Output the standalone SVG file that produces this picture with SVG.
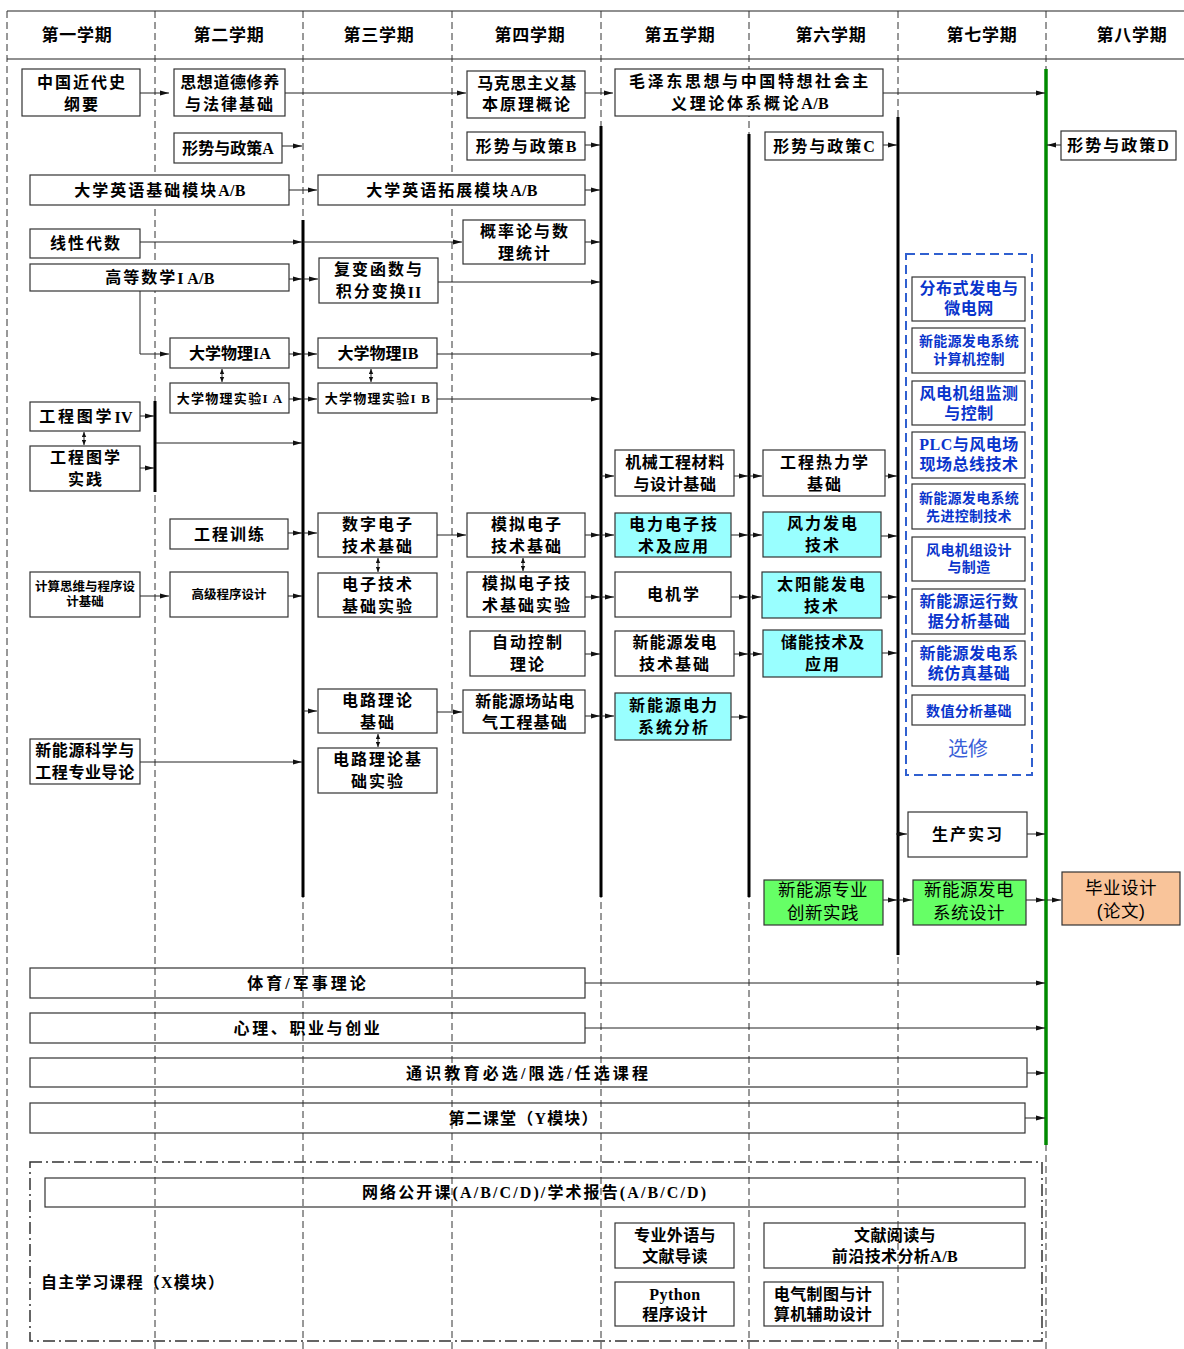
<svg xmlns="http://www.w3.org/2000/svg" width="1184" height="1349" viewBox="0 0 1184 1349">
<style>
.b{fill:#fff;stroke:#333;stroke-width:1.2}
.bn{fill:none;stroke:#333;stroke-width:1.2}
.cy{fill:#99ffff;stroke:#333;stroke-width:1.2}
.gr{fill:#66ff66;stroke:#333;stroke-width:1.2}
.or{fill:#f9c49a;stroke:#333;stroke-width:1.2}
text{font-family:"Liberation Serif","Noto Sans CJK SC",serif;font-weight:bold;text-anchor:middle;dominant-baseline:central;fill:#000}
.t{font-size:16px;letter-spacing:2px}
.t6{font-size:16px;letter-spacing:0.6px}
.t0{font-size:16px;letter-spacing:0}
.s{font-size:12.5px;letter-spacing:0}
.s13{font-size:13px;letter-spacing:1.3px}
.h{font-size:17px;letter-spacing:0.8px}
.bl{font-size:16px;letter-spacing:0.5px;fill:#0a35cc}
.bls{font-size:14px;letter-spacing:0.3px;fill:#0a35cc}
.xx{font-family:"Noto Sans CJK SC","Liberation Sans",sans-serif;font-size:20px;font-weight:normal;fill:#3a5fd8}
.sn{font-family:"Liberation Sans","Noto Sans CJK SC",sans-serif;font-size:17.5px;font-weight:normal;letter-spacing:0.5px}
.xb{font-size:16px;letter-spacing:0.4px}
.lt{letter-spacing:0.3px}
.dash{stroke:#333;stroke-width:1;stroke-dasharray:7,4;fill:none}
.thick{stroke:#000;stroke-width:3;fill:none}
.c{stroke:#222;stroke-width:1;fill:none;marker-end:url(#ar)}
.d{stroke:#222;stroke-width:1;fill:none;marker-end:url(#ar2);marker-start:url(#ar2)}
</style>
<defs>
<marker id="ar" viewBox="0 0 9 6" refX="9" refY="3" markerWidth="9" markerHeight="6" markerUnits="userSpaceOnUse" orient="auto"><path d="M0,0.6 L9,3 L0,5.4 z" fill="#111"/></marker>
<marker id="ar2" viewBox="0 0 5 5" refX="5" refY="2.5" markerWidth="5" markerHeight="5" markerUnits="userSpaceOnUse" orient="auto-start-reverse"><path d="M0,0.3 L5,2.5 L0,4.7 z" fill="#111"/></marker>
</defs>
<rect width="1184" height="1349" fill="#fff"/>

<g id="grid">
<line x1="7" y1="11" x2="1184" y2="11" stroke="#222" stroke-width="1.2"/>
<line x1="7" y1="59" x2="1184" y2="59" stroke="#222" stroke-width="1.2"/>
<line class="dash" x1="7" y1="11" x2="7" y2="1349"/>
<line class="dash" x1="155" y1="11" x2="155" y2="1349"/>
<line class="dash" x1="303" y1="11" x2="303" y2="1349"/>
<line class="dash" x1="452" y1="11" x2="452" y2="1349"/>
<line class="dash" x1="601" y1="11" x2="601" y2="1349"/>
<line class="dash" x1="749" y1="11" x2="749" y2="1349"/>
<line class="dash" x1="898" y1="11" x2="898" y2="1349"/>
<line class="dash" x1="1046" y1="11" x2="1046" y2="1349"/>
<text class="h" x="77" y="35">第一学期</text>
<text class="h" x="229" y="35">第二学期</text>
<text class="h" x="379" y="35">第三学期</text>
<text class="h" x="530" y="35">第四学期</text>
<text class="h" x="680" y="35">第五学期</text>
<text class="h" x="831" y="35">第六学期</text>
<text class="h" x="982" y="35">第七学期</text>
<text class="h" x="1132" y="35">第八学期</text>
</g>

<g id="bars">
<line class="thick" x1="155" y1="401" x2="155" y2="492"/>
<line class="thick" x1="303" y1="220" x2="303" y2="897"/>
<line class="thick" x1="601" y1="126" x2="601" y2="897"/>
<line class="thick" x1="749" y1="134" x2="749" y2="897"/>
<line class="thick" x1="898" y1="117" x2="898" y2="955"/>
<line x1="1046" y1="69" x2="1046" y2="1145" stroke="#008a00" stroke-width="3.5"/>
</g>

<g id="connectors">
<path class="c" d="M140,93 H169"/>
<path class="c" d="M285,93 H466"/>
<path class="c" d="M585,93 H613"/>
<path class="c" d="M883,93 H1045"/>
<path class="c" d="M282,146 H302"/>
<path class="c" d="M585,145 H600"/>
<path class="c" d="M883,145 H897"/>
<path class="c" d="M1061,145 H1047"/>
<path class="c" d="M289,190 H317"/>
<path class="c" d="M585,190 H600"/>
<path class="c" d="M140,242 H302"/>
<path class="c" d="M303,242 H462"/>
<path class="c" d="M289,279 H302"/>
<path class="c" d="M303,279 H318"/>
<path class="c" d="M140,291 V354 H169"/>
<path class="c" d="M438,282 H600"/>
<path class="c" d="M585,242 H600"/>
<path class="c" d="M289,354 H302"/>
<path class="c" d="M303,354 H317"/>
<path class="c" d="M437,354 H600"/>
<path class="c" d="M289,399 H302"/>
<path class="c" d="M303,399 H317"/>
<path class="c" d="M437,399 H600"/>
<path class="d" d="M222,369 V382"/>
<path class="d" d="M371,369 V382"/>
<path class="c" d="M140,416 H154"/>
<path class="c" d="M140,468 H154"/>
<path class="d" d="M84,432 V445"/>
<path class="c" d="M156,443 H302"/>
<path class="c" d="M601,476 H614"/>
<path class="c" d="M734,476 H748"/>
<path class="c" d="M749,476 H762"/>
<path class="c" d="M885,476 H897"/>
<path class="c" d="M288,533 H302"/>
<path class="c" d="M303,533 H317"/>
<path class="c" d="M437,535 H466"/>
<path class="d" d="M378,558 V572"/>
<path class="c" d="M585,535 H600"/>
<path class="c" d="M601,535 H614"/>
<path class="c" d="M731,535 H748"/>
<path class="c" d="M749,535 H762"/>
<path class="c" d="M881,536 H897"/>
<path class="d" d="M523,558 V571"/>
<path class="c" d="M140,596 H169"/>
<path class="c" d="M288,596 H302"/>
<path class="c" d="M585,597 H600"/>
<path class="c" d="M601,597 H614"/>
<path class="c" d="M731,597 H748"/>
<path class="c" d="M749,597 H761"/>
<path class="c" d="M881,597 H897"/>
<path class="c" d="M585,654 H600"/>
<path class="c" d="M734,654 H748"/>
<path class="c" d="M749,654 H762"/>
<path class="c" d="M882,653 H897"/>
<path class="c" d="M303,711 H317"/>
<path class="c" d="M437,712 H462"/>
<path class="c" d="M585,716 H600"/>
<path class="c" d="M601,716 H614"/>
<path class="c" d="M731,717 H748"/>
<path class="d" d="M378,734 V747"/>
<path class="c" d="M140,762 H302"/>
<path class="c" d="M896,834 H907"/>
<path class="c" d="M1027,834 H1045"/>
<path class="c" d="M883,900 H897"/>
<path class="c" d="M898,900 H912"/>
<path class="c" d="M1026,900 H1045"/>
<path class="c" d="M1047,900 H1061"/>
<path class="c" d="M585,983 H1045"/>
<path class="c" d="M585,1028 H1045"/>
<path class="c" d="M1027,1073 H1045"/>
<path class="c" d="M1025,1118 H1045"/>
</g>

<g id="n-zgjd"><rect class="b" x="22" y="69" width="118" height="47"/><text class="t" x="82" y="82">中国近代史</text><text class="t" x="82" y="104">纲要</text></g>
<g id="n-sxdd"><rect class="b" x="174" y="69" width="111" height="47"/><text class="t6" x="230" y="82">思想道德修养</text><text class="t" x="230" y="104">与法律基础</text></g>
<g id="n-mks"><rect class="b" x="467" y="71" width="118" height="47"/><text class="t6" x="527" y="83">马克思主义基</text><text class="t" x="527" y="104">本原理概论</text></g>
<g id="n-mzd"><rect class="b" x="615" y="69" width="268" height="47"/><text class="t" style="letter-spacing:2.6px" x="750" y="81">毛泽东思想与中国特想社会主</text><text class="t" style="letter-spacing:2.6px" x="750" y="103">义理论体系概论<tspan class="lt">A/B</tspan></text></g>
<g id="n-xsa"><rect class="b" x="174" y="133" width="108" height="30"/><text class="t0" x="228" y="148">形势与政策A</text></g>
<g id="n-xsb"><rect class="b" x="467" y="132" width="118" height="28"/><text class="t" x="527" y="146">形势与政策B</text></g>
<g id="n-xsc"><rect class="b" x="765" y="132" width="118" height="28"/><text class="t" x="825" y="146">形势与政策C</text></g>
<g id="n-xsd"><rect class="b" x="1061" y="131" width="115" height="29"/><text class="t" x="1119" y="145.5">形势与政策D</text></g>
<g id="n-yyjc"><rect class="b" x="30" y="175" width="259" height="30"/><text class="t" x="160" y="190">大学英语基础模块<tspan class="lt">A/B</tspan></text></g>
<g id="n-yytz"><rect class="b" x="318" y="175" width="267" height="30"/><text class="t" x="452" y="190">大学英语拓展模块<tspan class="lt">A/B</tspan></text></g>
<g id="n-xxds"><rect class="b" x="30" y="229" width="110" height="29"/><text class="t" x="86" y="243.5">线性代数</text></g>
<g id="n-gdsx"><rect class="b" x="30" y="264" width="259" height="27"/><text class="t" x="160" y="277.5">高等数学<tspan class="lt">I A/B</tspan></text></g>
<g id="n-fb"><rect class="b" x="319" y="258" width="119" height="45"/><text class="t" x="379" y="269.5">复变函数与</text><text class="t" x="379" y="291.5">积分变换<tspan style="letter-spacing:1px">II</tspan></text></g>
<g id="n-gl"><rect class="b" x="463" y="220" width="122" height="44"/><text class="t" x="525" y="231">概率论与数</text><text class="t" x="525" y="253">理统计</text></g>
<g id="n-wlia"><rect class="b" x="170" y="338" width="119" height="30"/><text class="t0" x="230" y="353">大学物理IA</text></g>
<g id="n-wlib"><rect class="b" x="318" y="338" width="119" height="30"/><text class="t0" x="378" y="353">大学物理IB</text></g>
<g id="n-syia"><rect class="b" x="170" y="383" width="119" height="30"/><text class="s13" x="230" y="398">大学物理实验I A</text></g>
<g id="n-syib"><rect class="b" x="318" y="383" width="119" height="30"/><text class="s13" x="378" y="398">大学物理实验I B</text></g>
<g id="n-gctx4"><rect class="b" x="30" y="402" width="110" height="29"/><text class="t" style="letter-spacing:2.8px" x="86" y="416.5">工程图学<tspan class="lt">IV</tspan></text></g>
<g id="n-gctxsj"><rect class="b" x="30" y="446" width="110" height="45"/><text class="t" x="86" y="457">工程图学</text><text class="t" x="86" y="479">实践</text></g>
<g id="n-jxgc"><rect class="b" x="615" y="450" width="119" height="46"/><text class="t6" x="675" y="462">机械工程材料</text><text class="t6" x="675" y="484">与设计基础</text></g>
<g id="n-gcrl"><rect class="b" x="763" y="450" width="122" height="46"/><text class="t" x="825" y="462">工程热力学</text><text class="t" x="825" y="484">基础</text></g>
<g id="n-gcxl"><rect class="b" x="170" y="519" width="118" height="30"/><text class="t" x="230" y="534">工程训练</text></g>
<g id="n-szdz"><rect class="b" x="318" y="513" width="119" height="44"/><text class="t" x="378" y="524">数字电子</text><text class="t" x="378" y="546">技术基础</text></g>
<g id="n-mndz"><rect class="b" x="467" y="513" width="118" height="44"/><text class="t" x="527" y="524">模拟电子</text><text class="t" x="527" y="546">技术基础</text></g>
<g id="n-dldz"><rect class="cy" x="615" y="513" width="116" height="44"/><text class="t" x="674" y="524">电力电子技</text><text class="t" x="674" y="546">术及应用</text></g>
<g id="n-flfd"><rect class="cy" x="763" y="512" width="118" height="45"/><text class="t" x="823" y="523.5">风力发电</text><text class="t" x="823" y="545.5">技术</text></g>
<g id="n-jssw"><rect class="b" x="30" y="572" width="110" height="45"/><text class="s" x="85" y="587">计算思维与程序设</text><text class="s" x="85" y="602">计基础</text></g>
<g id="n-gjcx"><rect class="b" x="170" y="572" width="118" height="45"/><text class="s" x="229" y="594.5">高级程序设计</text></g>
<g id="n-dzsy"><rect class="b" x="318" y="573" width="119" height="44"/><text class="t" x="378" y="584">电子技术</text><text class="t" x="378" y="606">基础实验</text></g>
<g id="n-mnsy"><rect class="b" x="467" y="572" width="118" height="45"/><text class="t" x="527" y="583.5">模拟电子技</text><text class="t" x="527" y="605.5">术基础实验</text></g>
<g id="n-djx"><rect class="b" x="615" y="572" width="116" height="45"/><text class="t" x="674" y="594.5">电机学</text></g>
<g id="n-tyn"><rect class="cy" x="762" y="572" width="119" height="46"/><text class="t" x="822" y="584">太阳能发电</text><text class="t" x="822" y="606">技术</text></g>
<g id="n-zdkz"><rect class="b" x="470" y="631" width="115" height="45"/><text class="t" x="528" y="642.5">自动控制</text><text class="t" x="528" y="664.5">理论</text></g>
<g id="n-xnyfd"><rect class="b" x="615" y="631" width="119" height="45"/><text class="t" style="letter-spacing:1px" x="675" y="642.5">新能源发电</text><text class="t" x="675" y="664.5">技术基础</text></g>
<g id="n-cn"><rect class="cy" x="763" y="630" width="119" height="47"/><text class="t" style="letter-spacing:0.8px" x="823" y="642">储能技术及</text><text class="t" x="823" y="664">应用</text></g>
<g id="n-dlll"><rect class="b" x="318" y="689" width="119" height="44"/><text class="t" x="378" y="700">电路理论</text><text class="t" x="378" y="722">基础</text></g>
<g id="n-czdq"><rect class="b" x="463" y="690" width="122" height="43"/><text class="t6" x="525" y="701">新能源场站电</text><text class="t" style="letter-spacing:1.2px" x="525" y="722">气工程基础</text></g>
<g id="n-dlxt"><rect class="cy" x="615" y="693" width="116" height="47"/><text class="t" x="674" y="705">新能源电力</text><text class="t" x="674" y="727">系统分析</text></g>
<g id="n-dlsy"><rect class="b" x="318" y="748" width="119" height="45"/><text class="t" x="378" y="759.5">电路理论基</text><text class="t" x="378" y="781.5">础实验</text></g>
<g id="n-zydl"><rect class="b" x="30" y="739" width="110" height="45"/><text class="t6" x="85" y="750.5">新能源科学与</text><text class="t6" x="85" y="772.5">工程专业导论</text></g>

<g id="electives">
<rect x="906" y="254" width="126" height="521" fill="none" stroke="#3060d0" stroke-width="2" stroke-dasharray="9,5"/>
<g id="e1"><rect class="b" x="912" y="277" width="113" height="44"/><text class="bl" x="969" y="288.5">分布式发电与</text><text class="bl" x="969" y="308.5">微电网</text></g>
<g id="e2"><rect class="b" x="912" y="328" width="113" height="45"/><text class="bls" x="969" y="341">新能源发电系统</text><text class="bls" x="969" y="359">计算机控制</text></g>
<g id="e3"><rect class="b" x="912" y="381" width="113" height="44"/><text class="bl" x="969" y="393">风电机组监测</text><text class="bl" x="969" y="413">与控制</text></g>
<g id="e4"><rect class="b" x="912" y="432" width="113" height="46"/><text class="bl" x="969" y="444.5">PLC与风电场</text><text class="bl" x="969" y="464.5">现场总线技术</text></g>
<g id="e5"><rect class="b" x="912" y="484" width="113" height="45"/><text class="bls" x="969" y="498">新能源发电系统</text><text class="bls" x="969" y="516">先进控制技术</text></g>
<g id="e6"><rect class="b" x="912" y="537" width="113" height="44"/><text class="bls" x="969" y="550">风电机组设计</text><text class="bls" x="969" y="567">与制造</text></g>
<g id="e7"><rect class="b" x="912" y="589" width="113" height="45"/><text class="bl" x="969" y="601">新能源运行数</text><text class="bl" x="969" y="621">据分析基础</text></g>
<g id="e8"><rect class="b" x="912" y="641" width="113" height="45"/><text class="bl" x="969" y="653">新能源发电系</text><text class="bl" x="969" y="673">统仿真基础</text></g>
<g id="e9"><rect class="b" x="912" y="695" width="113" height="30"/><text class="bls" x="969" y="711">数值分析基础</text></g>
<text class="xx" x="968" y="747">选修</text>
</g>

<g id="n-scsx"><rect class="b" x="908" y="812" width="119" height="45"/><text class="t" x="968" y="834.5">生产实习</text></g>
<g id="n-cxsj"><rect class="gr" x="764" y="880" width="119" height="45"/><text class="sn" x="823" y="890">新能源专业</text><text class="sn" x="823" y="913">创新实践</text></g>
<g id="n-xtsj"><rect class="gr" x="913" y="880" width="113" height="45"/><text class="sn" x="969" y="890">新能源发电</text><text class="sn" x="969" y="913">系统设计</text></g>
<g id="n-bysj"><rect class="or" x="1062" y="872" width="118" height="53"/><text class="sn" x="1121" y="888">毕业设计</text><text class="sn" x="1121" y="911">(论文)</text></g>

<g id="n-ty"><rect class="bn" x="30" y="968" width="555" height="30"/><text class="t" style="letter-spacing:3px" x="308" y="983">体育/军事理论</text></g>
<g id="n-xl"><rect class="bn" x="30" y="1013" width="555" height="30"/><text class="t" style="letter-spacing:2.6px" x="308" y="1028">心理、职业与创业</text></g>
<g id="n-tsjy"><rect class="bn" x="30" y="1058" width="997" height="29"/><text class="t" x="528" y="1073" textLength="244" lengthAdjust="spacing">通识教育必选/限选/任选课程</text></g>
<g id="n-dekt"><rect class="bn" x="30" y="1103" width="995" height="30"/><text class="t" x="524" y="1118" textLength="151" lengthAdjust="spacing">第二课堂（Y模块）</text></g>

<g id="x-module">
<rect x="30" y="1162" width="1012" height="179" fill="none" stroke="#333" stroke-width="1.5" stroke-dasharray="12,4,2,4"/>
<text class="t" style="text-anchor:start" x="41" y="1282" textLength="185" lengthAdjust="spacing">自主学习课程（X模块）</text>
<g id="n-wlgk"><rect class="bn" x="45" y="1178" width="980" height="29"/><text class="t" x="535" y="1192.5" textLength="346" lengthAdjust="spacing">网络公开课(A/B/C/D)/学术报告(A/B/C/D)</text></g>
<g id="n-zywy"><rect class="bn" x="615" y="1223" width="119" height="45"/><text class="xb" x="675" y="1235">专业外语与</text><text class="xb" x="675" y="1256">文献导读</text></g>
<g id="n-wxyd"><rect class="bn" x="764" y="1223" width="261" height="45"/><text class="xb" x="895" y="1235">文献阅读与</text><text class="xb" x="895" y="1256">前沿技术分析A/B</text></g>
<g id="n-py"><rect class="bn" x="615" y="1282" width="119" height="44"/><text class="xb" x="675" y="1294">Python</text><text class="xb" x="675" y="1314">程序设计</text></g>
<g id="n-dqzt"><rect class="bn" x="764" y="1282" width="119" height="44"/><text class="xb" x="823" y="1294">电气制图与计</text><text class="xb" x="823" y="1314">算机辅助设计</text></g>
</g>
</svg>
